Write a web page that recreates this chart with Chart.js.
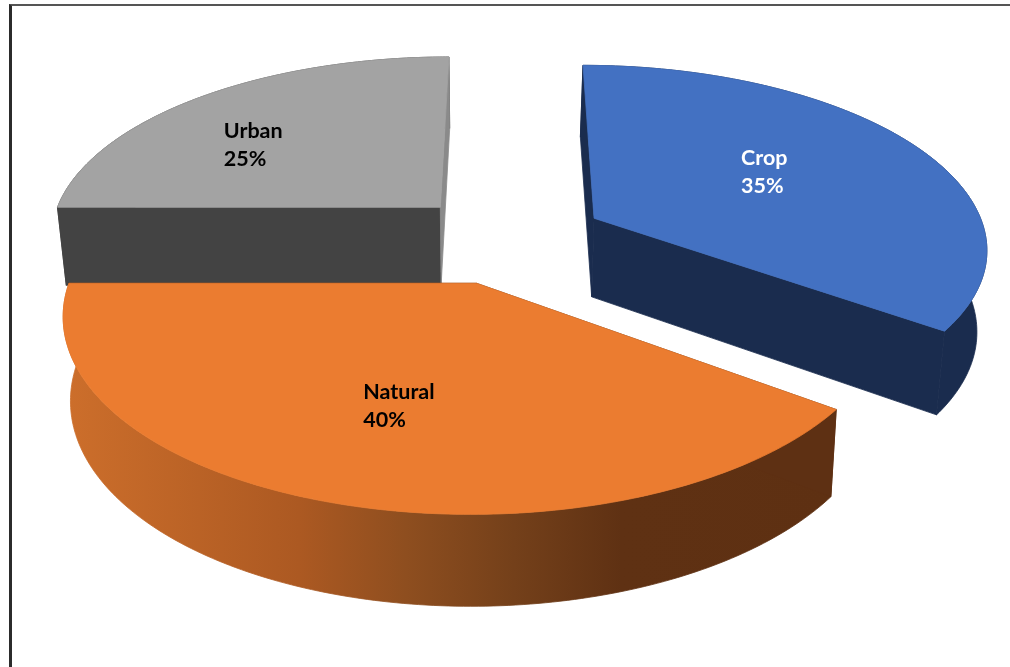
<!DOCTYPE html>
<html>
<head>
<meta charset="utf-8">
<title>Land cover</title>
<script src="https://cdn.jsdelivr.net/npm/chart.js@4"></script>
<style>
    html, body { margin: 0; padding: 0; background: #fff; overflow: hidden; }
    #frame { position: absolute; left: 9px; top: 4px; width: 1001px; height: 663px; border-left: 3px solid #2b2b2b; border-top: 2px solid #555; box-sizing: border-box; }
    #landCoverChart { position: absolute; left: 0; top: 0; }
</style>
</head>
<body>
<div id="frame"></div>
<canvas id="landCoverChart" width="1010" height="667"></canvas>
<script>
const categories = ['Crop', 'Natural', 'Urban']
const shares = [35, 40, 25]

const topColors = ['#4371C2', '#EB7C30', '#A3A3A3']
const labelColors = ['#FFFFFF', '#000000', '#000000']

// Wall colours per slice: rim, wall along the start edge, wall along the end edge
const rimColors = ['#1A2C4E', null, '#434343']
const startWallColors = ['#1A2C4E', '#5E3013', '#434343']
const endWallColors = ['#1A2C4E', '#5E3013', '#8A8A8A']

// Rim shading of the orange slice, left to right
const rimShadeStops = [[0, '#CC6E2B'], [0.3, '#AC5922'], [0.44, '#8E4E1F'], [0.58, '#74401A'], [0.72, '#5F3113'], [1, '#5E3012']]

// Where each label block sits inside its slice: share of the sweep, share of the radius
const labelSweep = [0.475, 0.488, 0.4]
const labelRadius = [0.54, 0.595, 0.65]

// Camera used for the tilted pie
const view = {
    centerX: 508,
    centerY: 238.5,
    radius: 393,
    horizonDepth: 1210,
    tilt: 0.15,
    explode: 0.25,
    steps: 160,
    wallShrink: 0.979,
    wallShrinkGrowth: 0.00003,
    wallCenterX: 478,
    wallDrop: 78,
    wallRefY: 205,
    wallStretch: 0.045
}

/**
 * Project a point of the unit pie onto the canvas
 * @param {number} x
 * @param {number} y positive towards the viewer
 */
function project(x, y) {
    const t = 1 / (1 - view.tilt * y)
    return {
        x: view.centerX + x * view.radius * t,
        y: view.centerY + view.horizonDepth * (t - 1)
    }
}

// The same point on the underside of the pie
function lower(p) {
    const below = p.y - view.wallRefY
    return {
        x: view.wallCenterX + (p.x - view.wallCenterX) * (view.wallShrink + view.wallShrinkGrowth * below),
        y: p.y + view.wallDrop + view.wallStretch * below
    }
}

function slicePoint(arc, angle, radius) {
    const mid = (arc.startAngle + arc.endAngle) / 2
    return project(
        Math.cos(mid) * view.explode + Math.cos(angle) * radius,
        Math.sin(mid) * view.explode + Math.sin(angle) * radius
    )
}

function rimPoints(arc) {
    const points = []
    for (let i = 0; i <= view.steps; i++) {
        points.push(slicePoint(arc, arc.startAngle + (arc.endAngle - arc.startAngle) * i / view.steps, 1))
    }
    return points
}

// A thin stroke in the fill colour keeps seams from showing where faces meet
function fillShape(ctx, points, color) {
    ctx.beginPath()
    points.forEach((p, i) => i ? ctx.lineTo(p.x, p.y) : ctx.moveTo(p.x, p.y))
    ctx.closePath()
    ctx.fillStyle = color
    ctx.fill()
    ctx.strokeStyle = color
    ctx.lineWidth = 0.8
    ctx.stroke()
}

function wall(points) {
    return points.concat(points.map(lower).reverse())
}

const tiltedPie = {
    id: 'tiltedPie',
    beforeDatasetsDraw(chart) {
        const ctx = chart.ctx
        const arcs = chart.getDatasetMeta(0).data

        // Far slices first so the near ones paint over them
        const order = arcs.map((arc, i) => i).sort((a, b) =>
            Math.sin((arcs[a].startAngle + arcs[a].endAngle) / 2) - Math.sin((arcs[b].startAngle + arcs[b].endAngle) / 2))

        ctx.save()
        order.forEach(i => {
            const arc = arcs[i]
            const rim = rimPoints(arc)
            const apex = slicePoint(arc, 0, 0)

            let rimFill = rimColors[i]
            if (!rimFill) {
                rimFill = ctx.createLinearGradient(rim[rim.length - 1].x, 0, rim[0].x, 0)
                rimShadeStops.forEach(stop => rimFill.addColorStop(stop[0], stop[1]))
            }

            fillShape(ctx, wall(rim), rimFill)
            fillShape(ctx, wall([apex, rim[0]]), startWallColors[i])
            fillShape(ctx, wall([apex, rim[rim.length - 1]]), endWallColors[i])
            fillShape(ctx, [apex].concat(rim), arc.options.backgroundColor)
        })

        ctx.font = 'bold 21.5px Lato, "Open Sans", sans-serif'
        ctx.textAlign = 'left'
        ctx.textBaseline = 'middle'
        const lineHeight = 28
        arcs.forEach((arc, i) => {
            const lines = [categories[i], shares[i] + '%']
            const angle = arc.startAngle + (arc.endAngle - arc.startAngle) * labelSweep[i]
            const spot = slicePoint(arc, angle, labelRadius[i])
            const width = Math.max(...lines.map(line => ctx.measureText(line).width))
            ctx.fillStyle = labelColors[i]
            lines.forEach((line, n) => {
                ctx.fillText(line, spot.x - width / 2, spot.y + (n - 0.5) * lineHeight)
            })
        })
        ctx.restore()

        return false
    }
}

new Chart(document.getElementById('landCoverChart'), {
    type: 'pie',
    data: {
        labels: categories,
        datasets: [{
            data: shares,
            backgroundColor: topColors,
            borderWidth: 0
        }]
    },
    options: {
        responsive: false,
        animation: false,
        plugins: {
            legend: { display: false },
            tooltip: { enabled: false }
        }
    },
    plugins: [tiltedPie]
})
</script>
</body>
</html>
